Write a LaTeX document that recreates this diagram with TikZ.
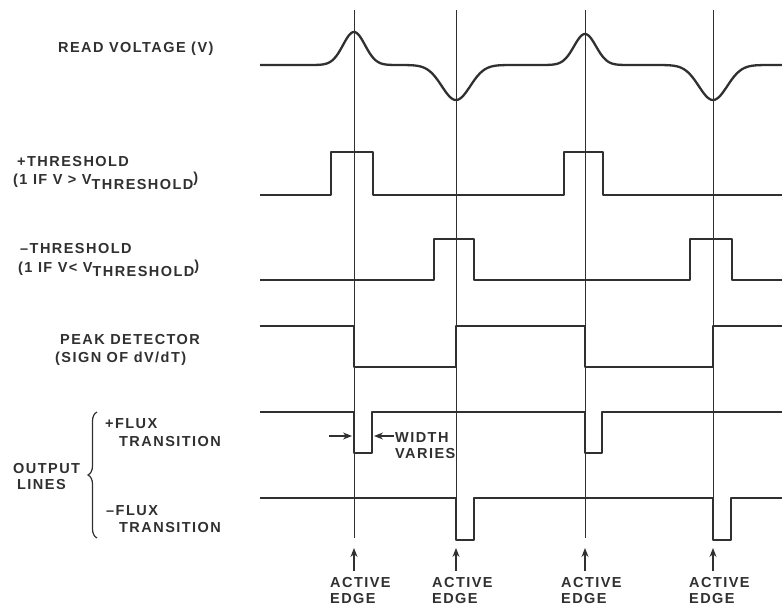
\documentclass[tikz,border=0pt]{standalone}
\usepackage{fontspec}
\setmainfont{Liberation Sans}[LetterSpace=10]
\usetikzlibrary{arrows.meta,decorations.pathreplacing}
\definecolor{ink}{HTML}{303030}
\begin{document}
\begin{tikzpicture}[x=1pt,y=-1pt,
  wave/.style={draw=ink,line width=2.3pt,line join=round},
  guide/.style={draw=ink,line width=0.9pt},
  arr/.style={draw=ink,line width=1.1pt,-{Stealth[length=9pt,width=7pt]}},
  lbl/.style={anchor=base west,inner sep=0pt,text=ink,font=\fontsize{14.5}{16}\selectfont\bfseries}]
\useasboundingbox[fill=white] (0,0) rectangle (782,607);

% guides
\foreach \x/\n in {354/1,456/2,585/3,713/4}{
  \coordinate (t\n) at (\x,10);
  \coordinate (b\n) at (\x,538);
  \draw[guide] (t\n) -- (b\n);
  \node[lbl] (act\n) at (\x-24,587) {ACTIVE};
  \node[lbl] (edg\n) at (\x-24,603) {EDGE};
  \coordinate (as\n) at (\x,571);
  \coordinate (ah\n) at (\x,548);
  \draw[arr] (as\n) -- (ah\n);
}

% read voltage
\draw[wave] (260,65)
  -- plot[domain=313:395,samples=70] (\x,{65-33*exp(-(((\x-354)/15.5)^2))})
  -- plot[domain=404:508,samples=80] (\x,{65+35*exp(-(((\x-456)/20)^2))})
  -- plot[domain=544:626,samples=70] (\x,{65-31*exp(-(((\x-585)/15.5)^2))})
  -- plot[domain=661:765,samples=80] (\x,{65+35*exp(-(((\x-713)/20)^2))})
  -- (782,65);

% thresholds
\draw[wave] (260,195) -| (331,152) -| (373,195) -| (564,152) -| (603,195) -- (782,195);
\draw[wave] (260,280) -| (434,239) -| (474,280) -| (690,239) -| (732,280) -- (782,280);
% peak detector
\draw[wave] (260,326) -| (354,367) -| (456,326) -| (585,367) -| (713,326) -- (782,326);
% flux lines
\draw[wave] (260,412) -| (354,453) -| (372,412) -| (585,453) -| (602,412) -- (782,412);
\draw[wave] (260,498) -| (456,540) -| (474,498) -| (713,540) -| (731,498) -- (782,498);

% width varies
\coordinate (wl) at (329,436);
\coordinate (wlh) at (352,436);
\coordinate (wr) at (394,436);
\coordinate (wrh) at (374,436);
\draw[arr] (wl) -- (wlh);
\draw[arr] (wr) -- (wrh);
\node[lbl] (wv1) at (395,442) {WIDTH};
\node[lbl] (wv2) at (395,458) {VARIES};

% left labels
\node[lbl] (rv) at (58,53) {READ VOLTAGE (V)};
\node[lbl] (pt1) at (17,167) {+THRESHOLD};
\node[lbl] (pt2) at (13,185) {(1 IF V > V\raisebox{-5pt}{THRESHOLD}\raisebox{2pt}{)}};
\node[lbl] (mt1) at (20,253) {–THRESHOLD};
\node[lbl] (mt2) at (18,272) {(1 IF V< V\raisebox{-4pt}{THRESHOLD}\raisebox{2pt}{)}};
\node[lbl] (pd1) at (60,344) {PEAK DETECTOR};
\node[lbl] (pd2) at (55,362) {(SIGN OF dV/dT)};
\node[lbl] (pf1) at (105,428) {+FLUX};
\node[lbl] (pf2) at (119,446) {TRANSITION};
\node[lbl] (ol1) at (13,473) {OUTPUT};
\node[lbl] (ol2) at (17,489) {LINES};
\node[lbl] (mf1) at (106,515) {–FLUX};
\node[lbl] (mf2) at (119,532) {TRANSITION};

% brace
\coordinate (br1) at (97,538);
\coordinate (br2) at (97,412);
\draw[draw=ink,line width=1.2pt,decorate,decoration={brace,amplitude=9pt}] (br1) -- (br2);
\end{tikzpicture}
\end{document}
